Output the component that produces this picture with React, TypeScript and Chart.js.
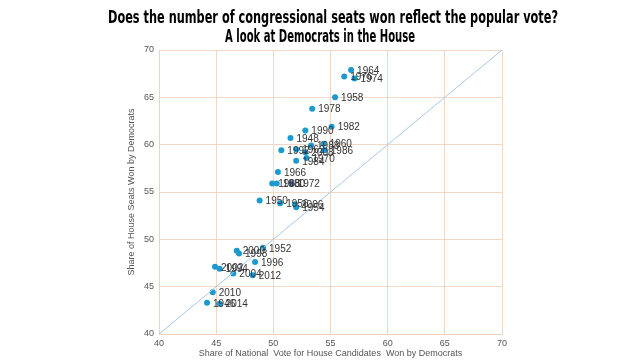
import React, { useEffect, useRef } from "react";
import { Chart, registerables } from "chart.js";

Chart.register(...registerables);

const titleLines = [
  "Does the number of congressional seats won reflect the popular vote?",
  "A look at Democrats in the House",
];
const xAxisTitle = "Share of National  Vote for House Candidates  Won by Democrats";
const yAxisTitle = "Share of House Seats Won by Democrats";

const years = [
  "1946", "1948", "1950", "1952", "1954", "1956", "1958", "1960", "1962", "1964",
  "1966", "1968", "1970", "1972", "1974", "1976", "1978", "1980", "1982", "1984",
  "1986", "1988", "1990", "1992", "1994", "1996", "1998", "2000", "2002", "2004",
  "2006", "2008", "2010", "2012", "2014",
];
const voteShare = [
  44.2, 51.5, 48.8, 49.1, 52.0, 50.6, 55.4, 54.4, 52.0, 56.8,
  50.4, 49.9, 52.9, 51.6, 57.1, 56.2, 53.4, 50.3, 55.1, 52.0,
  54.5, 53.3, 52.8, 50.7, 45.3, 48.4, 47.0, 46.8, 44.9, 46.5,
  51.9, 52.8, 44.7, 48.2, 45.3,
];
const seatShare = [
  43.3, 60.7, 54.1, 49.1, 53.4, 53.8, 65.0, 60.1, 59.5, 67.9,
  57.1, 55.9, 58.6, 55.9, 67.0, 67.2, 63.8, 55.9, 61.9, 58.3,
  59.4, 59.9, 61.5, 59.4, 46.9, 47.6, 48.5, 48.8, 47.1, 46.4,
  53.7, 59.2, 44.4, 46.2, 43.2,
];
const parityLine = [
  { x: 40, y: 40 },
  { x: 70, y: 70 },
];
const axisMin = 40;
const axisMax = 70;
const axisStep = 5;

export default function App() {
  const ref = useRef<HTMLCanvasElement | null>(null);

  useEffect(() => {
    document.body.style.margin = "0";
    const canvas = ref.current;
    if (!canvas) return;

    const titlePlugin = {
      id: "twoLineTitle",
      afterDraw(chart: any) {
        const ctx = chart.ctx;
        const specs = [
          { text: titleLines[0], cx: 333, cy: 19, w: 450 },
          { text: titleLines[1], cx: 320, cy: 38, w: 190 },
        ];
        ctx.save();
        ctx.fillStyle = "#000";
        ctx.font = "bold 17px 'DejaVu Sans Condensed', 'Liberation Sans Narrow', sans-serif";
        ctx.textAlign = "center";
        ctx.textBaseline = "middle";
        specs.forEach((s) => {
          const mw = ctx.measureText(s.text).width;
          const k = s.w / mw;
          ctx.save();
          ctx.translate(s.cx, s.cy);
          ctx.scale(k, 1);
          ctx.fillText(s.text, 0, 0);
          ctx.restore();
        });
        ctx.restore();
      },
    };

    const labelPlugin = {
      id: "pointLabels",
      afterDatasetsDraw(chart: any) {
        const meta = chart.getDatasetMeta(1);
        const ctx = chart.ctx;
        ctx.save();
        ctx.fillStyle = "#333";
        ctx.font = "10px 'Liberation Sans', Arial, sans-serif";
        ctx.textAlign = "left";
        ctx.textBaseline = "middle";
        meta.data.forEach((pt: any, i: number) => {
          ctx.fillText(years[i], pt.x + 6, pt.y + 1);
        });
        ctx.restore();
      },
    };

    const gridColor = "rgba(238, 212, 190, 0.9)";
    const tickFont = { size: 9, family: "'Liberation Sans', Arial, sans-serif" };

    const chart = new Chart(canvas, {
      type: "scatter",
      data: {
        datasets: [
          {
            type: "line",
            data: parityLine,
            borderColor: "#a9c8e6",
            borderWidth: 1,
            pointRadius: 0,
            fill: false,
          } as any,
          {
            data: years.map((_, i) => ({ x: voteShare[i], y: seatShare[i] })),
            backgroundColor: "#1c9ad0",
            borderColor: "#1c9ad0",
            pointRadius: 3,
            pointBorderWidth: 0,
          },
        ],
      },
      options: {
        responsive: false,
        animation: false,
        layout: { padding: { left: 126, right: 138, top: 50, bottom: 0 } },
        plugins: {
          legend: { display: false },
          tooltip: { enabled: false },
          title: { display: false },
        },
        scales: {
          x: {
            type: "linear",
            min: axisMin,
            max: axisMax,
            afterFit(scale: any) {
              scale.height = 26;
            },
            ticks: {
              stepSize: axisStep,
              color: "#555",
              font: tickFont,
              padding: 4,
            },
            grid: { color: gridColor, drawTicks: false },
            border: { color: gridColor },
            title: {
              display: true,
              text: xAxisTitle,
              color: "#555",
              font: tickFont,
              padding: { top: 0, bottom: 1 },
            },
          },
          y: {
            type: "linear",
            min: axisMin,
            max: axisMax,
            afterFit(scale: any) {
              scale.width = 33;
            },
            ticks: {
              stepSize: axisStep,
              color: "#555",
              font: tickFont,
              padding: 5,
            },
            grid: { color: gridColor, drawTicks: false },
            border: { color: gridColor },
            title: {
              display: true,
              text: yAxisTitle,
              color: "#555",
              font: tickFont,
              padding: { top: 0, bottom: 4 },
            },
          },
        },
      },
      plugins: [titlePlugin, labelPlugin],
    });

    return () => chart.destroy();
  }, []);

  return (
    <div style={{ position: "absolute", left: 0, top: 0, width: 640, height: 360, background: "#fff" }}>
      <canvas ref={ref} width={640} height={360} />
    </div>
  );
}
